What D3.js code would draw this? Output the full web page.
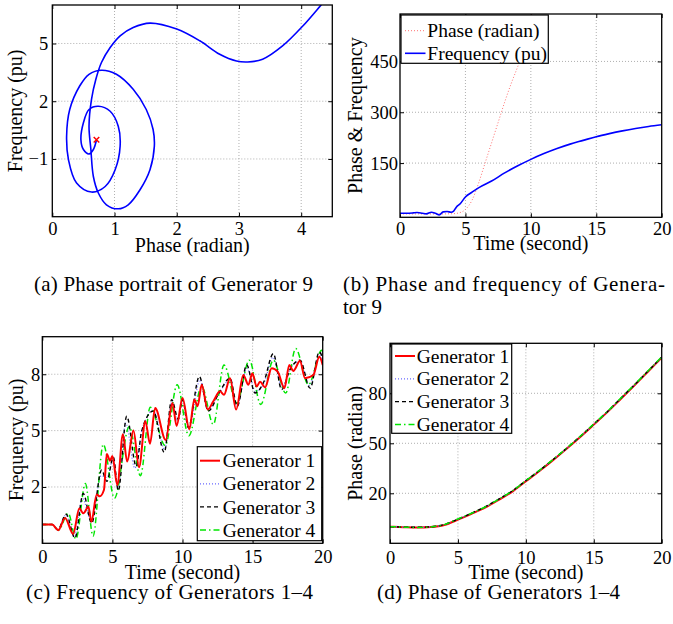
<!DOCTYPE html>
<html>
<head>
<meta charset="utf-8">
<script src="https://cdn.jsdelivr.net/npm/d3@7"></script>
<style>
body { margin: 0; background: #fff; }
svg text { font-family: "Liberation Serif", "Times New Roman", Times, "Nimbus Roman", "DejaVu Serif", serif; fill: #000; }
</style>
</head>
<body>
<div id="figure"></div>
<script>

// (a) phase portrait of generator 9 (phase rad, frequency pu)
var portraitPhase = [0.71, 0.66, 0.59, 0.50, 0.46, 0.50, 0.59, 0.74, 0.93, 1.06, 1.09, 1.01, 0.85, 0.63, 0.39, 0.26, 0.23, 0.28, 0.44, 0.59, 0.79, 1.03, 1.30, 1.51, 1.62, 1.64, 1.57, 1.41, 1.22, 1.06, 0.87, 0.74, 0.66, 0.62, 0.59, 0.63, 0.70, 0.79, 0.93, 1.09, 1.30, 1.57, 2.00, 2.37, 2.69, 2.96, 3.14, 3.38, 3.70, 4.03, 4.32, 4.40];
var portraitFreq  = [0.00, -0.51, -0.74, -0.51, 0.00, 0.88, 1.57, 1.74, 1.48, 0.70, -0.34, -1.56, -2.43, -2.72, -2.25, -1.04, 0.18, 1.57, 2.79, 3.40, 3.61, 3.40, 2.62, 1.57, 0.53, -0.34, -1.56, -2.60, -3.38, -3.59, -3.38, -2.77, -1.91, -0.51, 0.70, 2.09, 3.14, 4.01, 4.79, 5.40, 5.83, 6.06, 5.75, 5.14, 4.44, 4.09, 4.04, 4.18, 4.87, 5.92, 7.00, 7.30];

// (b) phase and frequency of generator 9 against time
var phaseTime = [0, 1, 2, 3, 4, 4.5, 5, 5.5, 6, 6.5, 7, 7.5, 8, 8.5, 9, 9.5, 10, 10.3];
var phaseValue = [0, 0, 0, 0, 0.5, 3, 13, 40, 90, 150, 210, 270, 330, 385, 435, 490, 575, 630];
var freqTime = [0, 0.5, 1, 1.3, 1.7, 2, 2.4, 2.7, 3, 3.3, 3.6, 3.9, 4.1, 4.3, 4.6, 5, 5.5, 6, 7, 8, 9, 10, 11, 12, 13, 14, 15, 16, 17, 18, 19, 20];
var freqValue = [2, 2, 3, 4, 2, 0, 5, 2, -3, 6, 7, 5, 8, 20, 30, 50, 64, 77, 97, 121, 142, 161, 178, 193, 206, 217, 228, 237, 245, 252, 258, 263];

// (c) frequency of generators 1-4 (pu), peaks and troughs
var gen1Time = [0, 0.7, 1.14, 1.62, 2.2, 2.64, 2.93, 3.29, 3.5, 3.88, 4.1, 4.4, 4.6, 4.83, 5.0, 5.35, 5.75, 6.05, 6.5, 6.9, 7.35, 7.68, 8.05, 8.8, 9.28, 9.58, 10.0, 10.49, 10.84, 11.08, 11.37, 11.8, 12.2, 12.68, 12.96, 13.39, 13.82, 14.34, 14.7, 14.98, 15.29, 15.53, 15.89, 16.36, 16.79, 17.27, 17.62, 17.9, 18.38, 18.74, 19.33, 19.76, 20];
var gen1Freq = [0, 0, -0.3, 0.35, -0.5, 0.85, 0.6, 0.95, 0.15, 1.6, 1.5, 1.85, 3.75, 3.4, 3.65, 2.1, 4.8, 3.35, 5.0, 3.05, 5.5, 4.3, 6.2, 4.5, 6.47, 5.25, 6.74, 5.07, 6.65, 6.3, 7.44, 6.12, 6.56, 7.09, 6.91, 7.79, 6.12, 7.96, 7.44, 8.05, 7.35, 7.6, 7.3, 8.32, 8.14, 7.26, 8.49, 8.18, 8.7, 7.79, 7.96, 8.93, 8.49];
var gen2Time = [0, 0.7, 1.12, 1.68, 2.28, 2.85, 3.5, 4.2, 4.62, 5.05, 5.4, 5.95, 6.6, 7.1, 7.95, 8.72, 9.25, 9.65, 10.0, 10.45, 11.25, 11.82, 12.6, 13.4, 13.88, 14.6, 15.2, 15.8, 16.45, 17.1, 17.7, 18.4, 19.05, 19.78, 20];
var gen2Freq = [0, 0, -0.28, 0.5, -0.65, 1.4, 0.2, 2.6, 2.5, 3.5, 2.0, 5.4, 3.0, 5.0, 6.1, 4.0, 6.55, 5.5, 6.7, 5.1, 7.7, 6.1, 7.0, 7.7, 6.3, 8.3, 7.1, 7.5, 8.9, 7.3, 8.3, 8.7, 7.4, 9.0, 8.7];
var gen3Time = [0, 0.7, 1.1, 1.7, 2.33, 2.92, 3.52, 4.23, 4.6, 5.07, 5.42, 6.02, 6.7, 7.09, 7.92, 8.7, 9.23, 9.7, 10.0, 10.42, 11.2, 11.84, 12.6, 13.39, 13.91, 14.58, 15.17, 15.8, 16.48, 17.07, 17.7, 18.38, 19.1, 19.76, 20];
var gen3Freq = [0, 0, -0.28, 0.55, -0.72, 1.65, 0.07, 2.9, 2.3, 3.58, 1.8, 5.77, 3.1, 4.98, 6.04, 3.84, 6.65, 5.6, 6.65, 5.16, 7.88, 6.04, 7.0, 7.79, 6.3, 8.49, 7.0, 7.6, 9.1, 7.18, 8.3, 8.75, 7.26, 9.19, 8.84];
var gen4Time = [0, 0.7, 1.15, 1.85, 2.4, 3.07, 3.62, 4.35, 5.15, 6.2, 7.0, 7.7, 8.77, 9.62, 10.45, 11.37, 12.2, 12.96, 13.86, 14.77, 15.58, 16.48, 17.36, 18.07, 18.98, 19.93, 20];
var gen4Freq = [0, 0, -0.3, 0.6, -0.77, 2.18, -0.62, 4.27, 1.4, 5.2, 2.6, 6.25, 4.2, 7.44, 4.72, 7.35, 5.33, 8.49, 6.47, 8.75, 6.39, 8.75, 7.0, 9.37, 7.44, 9.28, 9.2];

// (d) phase of generators 1-4 (radian), one value per second
var seconds = [0, 1, 2, 3, 4, 5, 6, 7, 8, 9, 10, 11, 12, 13, 14, 15, 16, 17, 18, 19, 20];
var gen1Phase = [0, -0.3, -0.5, -0.2, 1.0, 4.2, 7.7, 11.4, 16.0, 21.0, 27.2, 33.4, 39.9, 46.7, 53.8, 61.2, 68.7, 76.7, 84.8, 93.1, 101.4];
var gen2Phase = [0, -0.3, -0.4, -0.1, 1.2, 4.4, 7.9, 11.7, 16.3, 21.3, 27.5, 33.6, 40.1, 46.9, 54.0, 61.4, 68.9, 76.9, 85.0, 93.3, 101.6];
var gen3Phase = [0, -0.3, -0.4, -0.1, 1.3, 4.5, 8.1, 11.9, 16.5, 21.4, 27.6, 33.7, 40.2, 47.0, 54.1, 61.5, 69.0, 77.1, 85.1, 93.4, 101.7];
var gen4Phase = [0, -0.3, -0.5, -0.2, 1.2, 4.6, 8.0, 11.8, 16.4, 21.4, 27.6, 33.8, 40.3, 47.1, 54.2, 61.6, 69.1, 77.2, 85.2, 93.5, 101.8];

var genNames = ["Generator 1", "Generator 2", "Generator 3", "Generator 4"];
var timeTicks = [0, 5, 10, 15, 20];

var width = 673,
    height = 624;

var serif = "'Liberation Serif', 'Times New Roman', Times, 'Nimbus Roman', 'DejaVu Serif', serif";

var svg = d3.select("#figure").append("svg")
    .attr("width", width)
    .attr("height", height)
    .style("background", "#fff");

// line styles (matlab defaults)
var styles = {
    red:   {stroke: "#ff0000", width: 2,   dash: null},
    blue:  {stroke: "#6a6aff", width: 1.2, dash: "1,2"},
    black: {stroke: "#000",    width: 1.4, dash: "4,3"},
    green: {stroke: "#00e600", width: 1.5, dash: "6,3,1.5,3"},
    pink:  {stroke: "#ff7070", width: 1,   dash: "1,2"},
    solidBlue: {stroke: "#0000ff", width: 1.6, dash: null}
};

function addText(parent, size) {
    return parent.append("text")
        .style("font-family", serif)
        .style("font-size", size + "px")
        .style("fill", "#000");
}

// one matlab-like axes box: grid, inward ticks, labels
function makePanel(p) {
    var x = d3.scaleLinear().domain(p.xDomain).range([p.x0, p.x1]);
    var y = d3.scaleLinear().domain(p.yDomain).range([p.y1, p.y0]);
    var g = svg.append("g");

    g.append("clipPath").attr("id", p.id)
        .append("rect")
        .attr("x", p.x0).attr("y", p.y0)
        .attr("width", p.x1 - p.x0).attr("height", p.y1 - p.y0);

    // dotted grid
    g.selectAll(".gx").data(p.xTicks.filter(function(d) { return d > p.xDomain[0] && d < p.xDomain[1]; }))
        .enter().append("line")
        .attr("x1", function(d) { return x(d); }).attr("x2", function(d) { return x(d); })
        .attr("y1", p.y0).attr("y2", p.y1)
        .style("stroke", "#9a9a9a").style("stroke-width", 0.8).style("stroke-dasharray", "1,2");
    g.selectAll(".gy").data(p.yTicks)
        .enter().append("line")
        .attr("y1", function(d) { return y(d); }).attr("y2", function(d) { return y(d); })
        .attr("x1", p.x0).attr("x2", p.x1)
        .style("stroke", "#9a9a9a").style("stroke-width", 0.8).style("stroke-dasharray", "1,2");

    g.append("g").attr("transform", "translate(0," + p.y1 + ")")
        .call(d3.axisBottom(x).tickValues(p.xTicks).tickSize(-4).tickPadding(p.xPad).tickFormat(d3.format("d")));
    g.append("g").attr("transform", "translate(" + p.x0 + ",0)")
        .call(d3.axisLeft(y).tickValues(p.yTicks).tickSize(-4).tickPadding(p.yPad));
    g.append("g").attr("transform", "translate(0," + p.y0 + ")")
        .call(d3.axisTop(x).tickValues(p.xTicks).tickSize(-4).tickFormat(""));
    g.append("g").attr("transform", "translate(" + p.x1 + ",0)")
        .call(d3.axisRight(y).tickValues(p.yTicks).tickSize(-4).tickFormat(""));

    g.selectAll(".domain").remove();
    g.selectAll(".tick line").style("stroke", "#000").style("stroke-width", 1);
    g.selectAll(".tick text")
        .style("font-family", serif)
        .style("font-size", "18.5px").style("fill", "#000");

    // x label and y label
    addText(g, 20)
        .attr("x", (p.x0 + p.x1) / 2).attr("y", p.xLabelY)
        .attr("text-anchor", "middle")
        .text(p.xLabel);
    addText(g, 20)
        .attr("transform", "translate(" + p.yLabelX + "," + (p.y0 + p.y1) / 2 + ") rotate(-90)")
        .attr("text-anchor", "middle")
        .text(p.yLabel);

    var plot = svg.append("g").attr("clip-path", "url(#" + p.id + ")");

    return {x: x, y: y, plot: plot, p: p};
}

function frame(panel) {
    var p = panel.p;
    svg.append("rect")
        .attr("x", p.x0).attr("y", p.y0)
        .attr("width", p.x1 - p.x0).attr("height", p.y1 - p.y0)
        .style("fill", "none").style("stroke", "#000").style("stroke-width", 1.3);
}

function drawLine(panel, xs, ys, style, curve) {
    var line = d3.line()
        .x(function(d) { return panel.x(d[0]); })
        .y(function(d) { return panel.y(d[1]); })
        .curve(curve);
    panel.plot.append("path")
        .datum(d3.zip(xs, ys))
        .attr("d", line)
        .style("fill", "none")
        .style("stroke", style.stroke)
        .style("stroke-width", style.width)
        .style("stroke-dasharray", style.dash)
        .style("stroke-linejoin", "round");
}

function legend(box, rows) {
    var g = svg.append("g");
    g.append("rect")
        .attr("x", box.x).attr("y", box.y).attr("width", box.w).attr("height", box.h)
        .style("fill", "#fff").style("stroke", "#000").style("stroke-width", 1.2);
    rows.forEach(function(r, i) {
        var cy = box.firstRow + i * box.step;
        g.append("line")
            .attr("x1", box.lineX0).attr("x2", box.lineX1)
            .attr("y1", cy).attr("y2", cy)
            .style("stroke", r.style.stroke)
            .style("stroke-width", r.style.width)
            .style("stroke-dasharray", r.style.dash);
        addText(g, 19.5)
            .attr("x", box.textX).attr("y", cy).attr("dy", "0.34em")
            .text(r.name);
    });
}

// ---------- (a) phase portrait ----------
var pa = makePanel({
    id: "clipA", x0: 52.3, x1: 332.3, y0: 5, y1: 216.7,
    xDomain: [0, 4.5], yDomain: [-4, 7],
    xTicks: [0, 1, 2, 3, 4], yTicks: [-1, 2, 5],
    xPad: 5, yPad: 4,
    xLabel: "Phase (radian)", xLabelY: 251.7,
    yLabel: "Frequency (pu)", yLabelX: 22
});
drawLine(pa, portraitPhase, portraitFreq, styles.solidBlue, d3.curveCatmullRom.alpha(0.5));
pa.plot.append("path")
    .attr("transform", "translate(" + pa.x(portraitPhase[0]) + "," + pa.y(portraitFreq[0]) + ")")
    .attr("d", d3.symbol(d3.symbolX || d3.symbolCross).size(22)())
    .style("fill", "none").style("stroke", "#ff0000").style("stroke-width", 1.5);
frame(pa);

// ---------- (b) phase and frequency ----------
var pb = makePanel({
    id: "clipB", x0: 400, x1: 661.7, y0: 14, y1: 217.3,
    xDomain: [0, 20], yDomain: [-10, 590],
    xTicks: timeTicks, yTicks: [150, 300, 450],
    xPad: 4.6, yPad: 2,
    xLabel: "Time (second)", xLabelY: 250,
    yLabel: "Phase & Frequency", yLabelX: 361.5
});
drawLine(pb, phaseTime, phaseValue, styles.pink, d3.curveMonotoneX);
drawLine(pb, freqTime, freqValue, styles.solidBlue, d3.curveMonotoneX);
frame(pb);
legend({x: 401, y: 15, w: 147.3, h: 48.3, firstRow: 30.7, step: 22.6, lineX0: 405, lineX1: 425.5, textX: 427.3},
    [{name: "Phase (radian)", style: styles.pink}, {name: "Frequency (pu)", style: styles.solidBlue}]);

// ---------- (c) frequency of generators ----------
var pc = makePanel({
    id: "clipC", x0: 42.3, x1: 322.7, y0: 336.7, y1: 543.3,
    xDomain: [0, 20], yDomain: [-1, 10],
    xTicks: timeTicks, yTicks: [2, 5, 8],
    xPad: 6.3, yPad: 2,
    xLabel: "Time (second)", xLabelY: 579.3,
    yLabel: "Frequency (pu)", yLabelX: 23
});
drawLine(pc, gen2Time, gen2Freq, styles.blue, d3.curveMonotoneX);
drawLine(pc, gen4Time, gen4Freq, styles.green, d3.curveMonotoneX);
drawLine(pc, gen3Time, gen3Freq, styles.black, d3.curveMonotoneX);
drawLine(pc, gen1Time, gen1Freq, styles.red, d3.curveMonotoneX);
frame(pc);
legend({x: 197.3, y: 446.7, w: 124.4, h: 94, firstRow: 460.7, step: 23.1, lineX0: 200, lineX1: 220, textX: 222.7},
    [{name: genNames[0], style: styles.red}, {name: genNames[1], style: styles.blue},
     {name: genNames[2], style: styles.black}, {name: genNames[3], style: styles.green}]);

// ---------- (d) phase of generators ----------
var pd = makePanel({
    id: "clipD", x0: 390, x1: 661.7, y0: 343.3, y1: 543.3,
    xDomain: [0, 20], yDomain: [-10, 110],
    xTicks: timeTicks, yTicks: [20, 50, 80],
    xPad: 7.5, yPad: 3,
    xLabel: "Time (second)", xLabelY: 578.5,
    yLabel: "Phase (radian)", yLabelX: 361.5
});
drawLine(pd, seconds, gen1Phase, styles.red, d3.curveMonotoneX);
drawLine(pd, seconds, gen2Phase, styles.blue, d3.curveMonotoneX);
drawLine(pd, seconds, gen3Phase, styles.black, d3.curveMonotoneX);
drawLine(pd, seconds, gen4Phase, styles.green, d3.curveMonotoneX);
frame(pd);
legend({x: 391.7, y: 344, w: 120, h: 89.3, firstRow: 356, step: 22.8, lineX0: 395, lineX1: 415, textX: 416.7},
    [{name: genNames[0], style: styles.red}, {name: genNames[1], style: styles.blue},
     {name: genNames[2], style: styles.black}, {name: genNames[3], style: styles.green}]);

// ---------- captions ----------
var captions = [
    {text: "(a) Phase portrait of Generator 9", x: 34, y: 291, len: 279},
    {text: "(b) Phase and frequency of Genera-", x: 343, y: 291, len: 322},
    {text: "tor 9", x: 343, y: 314, len: null},
    {text: "(c) Frequency of Generators 1\u20134", x: 26, y: 599, len: 287},
    {text: "(d) Phase of Generators 1\u20134", x: 377, y: 599, len: 243}
];
captions.forEach(function(c) {
    var t = addText(svg, 21)
        .attr("x", c.x).attr("y", c.y)
        .text(c.text);
    if (c.len) t.attr("textLength", c.len).attr("lengthAdjust", "spacing");
});

</script>
</body>
</html>
